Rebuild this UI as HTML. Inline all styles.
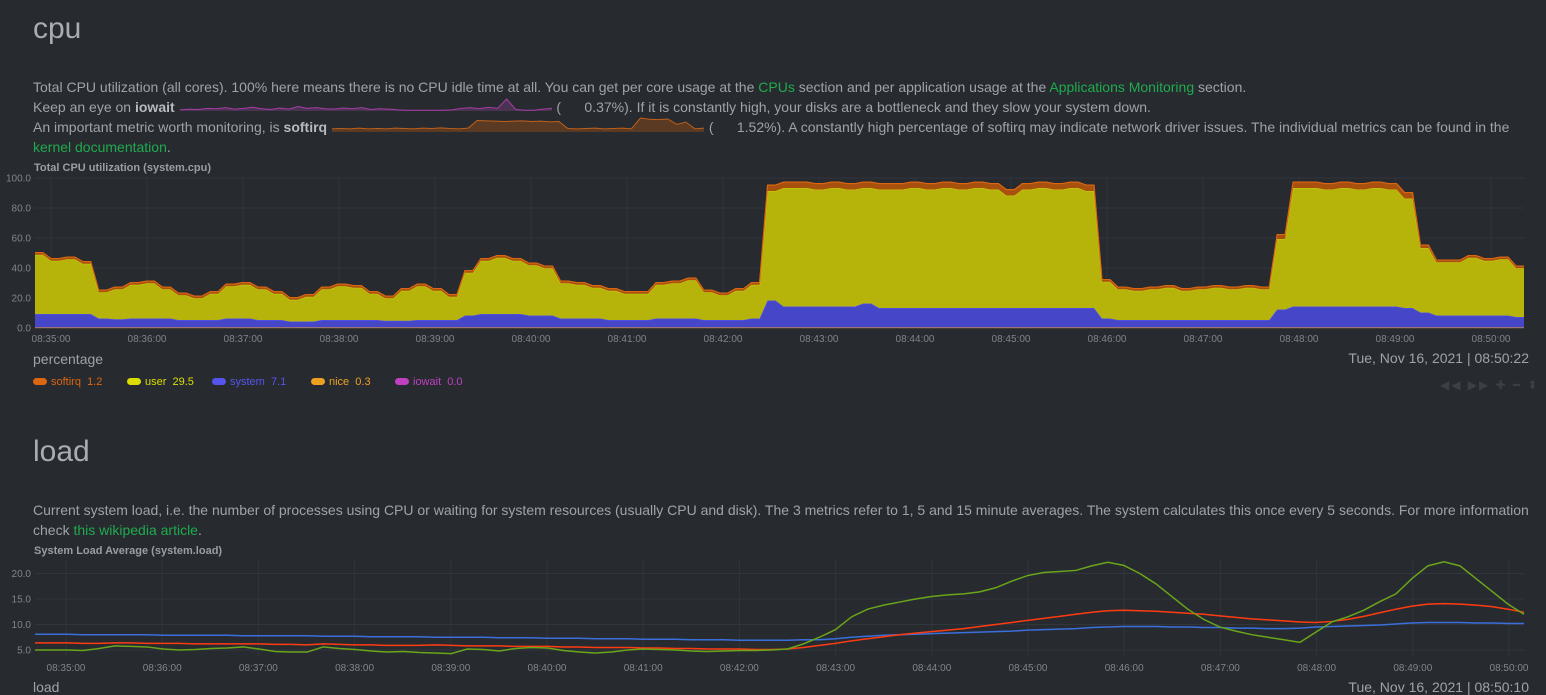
<!DOCTYPE html>
<html><head><meta charset="utf-8">
<style>
html,body{margin:0;padding:0;width:1546px;height:691px;overflow:hidden;background:#272b30;font-family:"Liberation Sans",sans-serif;color:#9fa3a8}
.abs{position:absolute;white-space:nowrap}
.h{font-size:30px;color:#a9adb2;left:33px}
.t{font-size:14px;left:33px;line-height:20px}
a{color:#1fab4d;text-decoration:none}
b{color:#b7bbbf}
.ct{font-size:11px;font-weight:bold;color:#9a9ea3;left:34px}
.lg{font-size:11px;top:376px}
.sw{display:inline-block;width:14px;height:7px;border-radius:4px;margin-right:4px;vertical-align:0}
svg{position:absolute;left:0;top:0}
</style></head><body>
<div class="abs h" style="top:12px">cpu</div>
<div class="abs t" style="top:77px">Total CPU utilization (all cores). 100% here means there is no CPU idle time at all. You can get per core usage at the <a>CPUs</a> section and per application usage at the <a>Applications Monitoring</a> section.<br>
Keep an eye on <b>iowait</b> <span style="display:inline-block;width:374px"></span> (&nbsp;&nbsp;&nbsp;&nbsp;&nbsp;&nbsp;0.37%). If it is constantly high, your disks are a bottleneck and they slow your system down.<br>
An important metric worth monitoring, is <b>softirq</b> <span style="display:inline-block;width:374px"></span> (&nbsp;&nbsp;&nbsp;&nbsp;&nbsp;&nbsp;1.52%). A constantly high percentage of softirq may indicate network driver issues. The individual metrics can be found in the<br>
<a>kernel documentation</a>.</div>
<div class="abs ct" style="top:162px">Total CPU utilization (system.cpu)</div>
<div class="abs" style="top:351px;left:33px;font-size:14px">percentage</div>
<div class="abs" style="top:350px;right:17px;font-size:14px">Tue, Nov 16, 2021 | 08:50:22</div>
<div class="abs lg" style="left:33px;color:#dd6611"><span class="sw" style="background:#dd6611"></span>softirq&nbsp; 1.2</div>
<div class="abs lg" style="left:127px;color:#dddd00"><span class="sw" style="background:#dddd00"></span>user&nbsp; 29.5</div>
<div class="abs lg" style="left:212px;color:#5555ee"><span class="sw" style="background:#5555ee"></span>system&nbsp; 7.1</div>
<div class="abs lg" style="left:311px;color:#f0a020"><span class="sw" style="background:#f0a020"></span>nice&nbsp; 0.3</div>
<div class="abs lg" style="left:395px;color:#c040c0"><span class="sw" style="background:#c040c0"></span>iowait&nbsp; 0.0</div>
<div class="abs" style="top:378px;left:1440px;font-size:12px;color:#3c4046;letter-spacing:2px">◀◀ ▶▶ ✚ ━ ⬍</div>

<div class="abs h" style="top:435px">load</div>
<div class="abs t" style="top:500px">Current system load, i.e. the number of processes using CPU or waiting for system resources (usually CPU and disk). The 3 metrics refer to 1, 5 and 15 minute averages. The system calculates this once every 5 seconds. For more information<br>check <a>this wikipedia article</a>.</div>
<div class="abs ct" style="top:545px">System Load Average (system.load)</div>
<div class="abs" style="top:679px;left:33px;font-size:14px">load</div>
<div class="abs" style="top:679px;right:17px;font-size:14px">Tue, Nov 16, 2021 | 08:50:10</div>

<svg id="s" width="1546" height="691"></svg>
<script>
// CPU data, 5s steps from 08:34:50
const cpuUser=[39.5,39.5,35.5,35.5,36.5,36.5,33.5,33.5,17.5,17.5,20,20,22.5,22.5,23.5,23.5,19.5,19.5,16.5,16.5,14.5,14.5,17.5,17.5,21.5,21.5,22.5,22.5,20.5,20.5,17.5,17.5,14.5,14.5,16.5,16.5,20.5,20.5,22.5,22.5,21.5,21.5,17.5,17.5,15,15,20,20,22.5,22.5,19.5,19.5,15.5,15.5,28.5,28.5,35.5,35.5,37.5,37.5,35.5,35.5,33.5,33.5,31.5,31.5,23.5,23.5,22.5,22.5,20.5,20.5,19.5,19.5,17.5,17.5,17.5,17.5,22.5,22.5,23.5,23.5,25.5,25.5,18.5,18.5,16.5,16.5,19.5,19.5,22.5,22.5,73,73,79,79,79,79,78,78,79,79,78,78,77,77,79,79,79,79,80,80,79,79,80,80,79,79,80,80,79,79,75,75,79,79,80,80,79,79,80,80,78,78,24.5,24.5,20.5,20.5,19.5,19.5,20.5,20.5,21.5,21.5,19.5,19.5,20.5,20.5,21.5,21.5,20.5,20.5,21.5,21.5,20.5,20.5,47,47,79,79,79,79,78,78,79,79,78,78,79,79,78,78,73,73,43,43,35.5,35.5,35.5,35.5,38.5,38.5,36.5,36.5,37.5,37.5,32.5,32.5];
const cpuSystem=[9,9,9,9,9,9,9,9,6,6,5.5,5.5,6,6,6,6,6,6,5,5,5,5,5,5,6,6,6,6,5,5,5,5,4,4,4,4,5,5,5,5,5,5,5,5,4.5,4.5,4.5,4.5,5,5,5,5,5,5,8,8,9,9,9,9,9,9,8,8,8,8,6,6,6,6,6,6,5,5,5,5,5,5,6,6,6,6,6,6,5,5,5,5,5,5,6,6,18,18,14,14,14,14,14,14,14,14,14,14,16,16,13,13,13,13,13,13,13,13,13,13,13,13,13,13,13,13,13,13,13,13,13,13,13,13,13,13,13,13,6,6,5,5,5,5,5,5,5,5,5,5,5,5,5,5,5,5,5,5,5,5,12,12,14,14,14,14,14,14,14,14,14,14,14,14,14,14,13,13,10,10,8,8,8,8,8,8,8,8,8,8,7,7];
const cpuSoftirq=[1.5,1.5,1.5,1.5,1.5,1.5,1.5,1.5,1.5,1.5,1.5,1.5,1.5,1.5,1.5,1.5,1.5,1.5,1.5,1.5,1.5,1.5,1.5,1.5,1.5,1.5,1.5,1.5,1.5,1.5,1.5,1.5,1.5,1.5,1.5,1.5,1.5,1.5,1.5,1.5,1.5,1.5,1.5,1.5,1.5,1.5,1.5,1.5,1.5,1.5,1.5,1.5,1.5,1.5,1.5,1.5,1.5,1.5,1.5,1.5,1.5,1.5,1.5,1.5,1.5,1.5,1.5,1.5,1.5,1.5,1.5,1.5,1.5,1.5,1.5,1.5,1.5,1.5,1.5,1.5,1.5,1.5,1.5,1.5,1.5,1.5,1.5,1.5,1.5,1.5,1.5,1.5,4,4,4,4,4,4,4,4,4,4,4,4,4,4,4,4,4,4,4,4,4,4,4,4,4,4,4,4,4,4,4,4,4,4,4,4,4,4,4,4,4,4,1.5,1.5,1.5,1.5,1.5,1.5,1.5,1.5,1.5,1.5,1.5,1.5,1.5,1.5,1.5,1.5,1.5,1.5,1.5,1.5,1.5,1.5,3,3,4,4,4,4,4,4,4,4,4,4,4,4,4,4,4,4,2,2,1.5,1.5,1.5,1.5,1.5,1.5,1.5,1.5,1.5,1.5,1.5,1.5];
const cpuNice=cpuUser.map(()=>0.3);
const cpuYTicks=["0.0","20.0","40.0","60.0","80.0","100.0"];
const cpuXTicks=["08:35:00","08:36:00","08:37:00","08:38:00","08:39:00","08:40:00","08:41:00","08:42:00","08:43:00","08:44:00","08:45:00","08:46:00","08:47:00","08:48:00","08:49:00","08:50:00"];
// Load data, 10s steps from 08:34:40
const load15=[8.1,8.1,8.1,8.0,8.0,8.0,8.0,8.0,7.9,7.9,7.9,7.9,7.9,7.8,7.8,7.8,7.8,7.8,7.7,7.7,7.7,7.6,7.6,7.6,7.6,7.5,7.5,7.5,7.5,7.4,7.4,7.4,7.3,7.3,7.3,7.2,7.2,7.2,7.1,7.1,7.1,7.0,7.0,7.0,6.9,6.9,6.9,6.9,7.0,7.0,7.2,7.5,7.7,7.9,8.0,8.1,8.2,8.3,8.4,8.5,8.6,8.7,8.9,9.0,9.1,9.2,9.4,9.5,9.6,9.6,9.6,9.5,9.5,9.4,9.4,9.3,9.3,9.2,9.2,9.3,9.5,9.6,9.7,9.8,9.9,10.1,10.3,10.4,10.4,10.4,10.3,10.3,10.2,10.2];
const load5=[6.4,6.4,6.4,6.3,6.3,6.4,6.4,6.3,6.3,6.3,6.2,6.2,6.2,6.2,6.2,6.1,6.1,6.0,6.2,6.1,6.0,6.0,5.9,5.9,5.9,6.0,5.9,5.8,5.8,5.8,5.7,5.7,5.7,5.6,5.6,5.5,5.5,5.5,5.4,5.4,5.3,5.3,5.2,5.2,5.2,5.1,5.1,5.2,5.5,5.9,6.3,6.8,7.2,7.6,8.0,8.3,8.6,8.9,9.2,9.6,10.0,10.4,10.8,11.2,11.6,12.0,12.4,12.7,12.8,12.7,12.6,12.4,12.2,12.0,11.7,11.4,11.1,10.9,10.7,10.5,10.4,10.6,11.0,11.6,12.3,13.0,13.6,14.0,14.1,14.0,13.8,13.5,13.0,12.4];
const load1=[5.0,5.0,5.0,4.9,5.3,5.8,5.7,5.6,5.2,5.0,5.1,5.3,5.4,5.6,5.2,4.7,4.6,4.6,5.6,5.3,5.1,4.8,4.6,4.7,4.5,4.4,4.3,5.2,5.1,4.8,5.3,5.5,5.4,4.9,4.6,4.4,4.6,5.0,5.2,5.1,5.0,4.8,4.7,4.8,4.9,4.9,5.0,5.2,6.2,7.5,9.0,11.5,13.0,13.8,14.4,15.0,15.5,15.8,16.0,16.4,17.2,18.5,19.6,20.2,20.4,20.6,21.5,22.2,21.6,20.0,18.0,15.5,13.0,11.0,9.5,8.7,8.0,7.5,7.0,6.5,8.5,10.5,11.5,12.8,14.5,16.0,19.0,21.5,22.3,21.5,19.0,16.5,14.0,12.0];
const loadYTicks=["5.0","10.0","15.0","20.0"];
const loadXTicks=cpuXTicks;
// sparklines
const iowaitSpark=[0.3,0.5,0.4,0.7,0.6,0.9,0.5,0.7,1.0,0.6,0.4,0.8,0.5,1.2,0.7,0.9,0.6,0.5,0.8,0.6,0.9,0.4,0.6,0.5,0.3,0.2,0.2,0.2,0.2,0.2,0.3,0.7,0.9,0.6,1.0,0.7,3.2,0.4,0.2,0.2,0.5,0.7];
const softirqSpark=[1.0,1.1,1.0,1.2,1.0,1.1,1.0,1.2,1.1,1.0,1.2,1.1,1.3,1.1,1.0,1.2,3.6,3.5,3.4,3.3,3.4,3.5,3.3,3.4,3.2,3.3,1.1,1.0,1.1,1.2,1.0,1.1,1.2,1.0,4.4,4.0,3.9,4.1,2.4,3.1,1.0,1.2];

const svg=document.getElementById('s'),NS='http://www.w3.org/2000/svg';
function mk(tag,attrs,name){const e=document.createElementNS(NS,tag);for(const k in attrs)e.setAttribute(k,attrs[k]);


svg.appendChild(e);return e;}
function txt(x,y,s,anchor,name){const t=mk('text',{x:x,y:y,'font-size':10,fill:'#80858b','text-anchor':anchor,'font-family':'Liberation Sans, sans-serif'},name);t.textContent=s;return t;}

const cx0=35,cx1=1524,cyTop=178,cyBot=328;
const cpuX=i=>cx0+i*(cx1-cx0)/(cpuUser.length-1);
const cpuY=v=>cyBot-v*(cyBot-cyTop)/100;
cpuYTicks.forEach((s,k)=>{const y=cpuY(parseFloat(s));mk('line',{x1:cx0,x2:cx1,y1:y,y2:y,stroke:'#30363c'},'cpu-gridline-y');txt(31,y+3.5,s,'end','cpu-y-tick');});
const tX=k=>51+k*96;
cpuXTicks.forEach((s,k)=>{mk('line',{x1:tX(k),x2:tX(k),y1:cyTop,y2:cyBot,stroke:'#30363c'},'cpu-gridline-x');txt(tX(k),342,s,'middle','cpu-x-tick');});
function stack(arrs){const n=arrs[0].length;const out=[];let base=new Array(n).fill(0);arrs.forEach(a=>{const top=base.map((b,i)=>b+a[i]);out.push([base,top]);base=top;});return out;}
const layers=stack([cpuNice,cpuSystem,cpuUser,cpuSoftirq]);
const fills=[['#c88a1c','#f0a020','nice'],['#4646c8','#5555ee','system'],['#b6b40b','#c8c60e','user'],['#a8500e','#dd6611','softirq']];
layers.forEach(([b,t],k)=>{let d='M'+cpuX(0)+','+cpuY(t[0]);for(let i=1;i<t.length;i++)d+='L'+cpuX(i)+','+cpuY(t[i]);for(let i=b.length-1;i>=0;i--)d+='L'+cpuX(i)+','+cpuY(b[i]);
mk('path',{d:d+'Z',fill:fills[k][0]},'cpu-area-'+fills[k][2]);
let l='M'+cpuX(0)+','+cpuY(t[0]);for(let i=1;i<t.length;i++)l+='L'+cpuX(i)+','+cpuY(t[i]);
mk('path',{d:l,fill:'none',stroke:fills[k][1],'stroke-width':1.2},'cpu-line-'+fills[k][2]);});

const lx0=35,lx1=1524;
const loadX=i=>lx0+i*(lx1-lx0)/(load1.length-1);
const loadY=v=>650-(v-5)*5.1;
loadYTicks.forEach(s=>{const y=loadY(parseFloat(s));mk('line',{x1:lx0,x2:lx1,y1:y,y2:y,stroke:'#30363c'},'load-gridline-y');txt(31,y+3.5,s,'end','load-y-tick');});
const lX=k=>66+k*96.2;
loadXTicks.forEach((s,k)=>{mk('line',{x1:lX(k),x2:lX(k),y1:560,y2:657,stroke:'#30363c'},'load-gridline-x');txt(lX(k),671,s,'middle','load-x-tick');});
[[load15,'#3a6fdc','load15'],[load5,'#ff3b12','load5'],[load1,'#6aa51a','load1']].forEach(([a,c,n])=>{let d='';a.forEach((v,i)=>d+=(i?'L':'M')+loadX(i)+','+loadY(v));mk('path',{d:d,fill:'none',stroke:c,'stroke-width':1.5},'load-line-'+n);});

function spark(a,x0,x1,yb,h,max,col,fill,name){const sx=i=>x0+i*(x1-x0)/(a.length-1),sy=v=>yb-v/max*h;let l='';a.forEach((v,i)=>l+=(i?'L':'M')+sx(i)+','+sy(v));
mk('path',{d:l+'L'+x1+','+yb+'L'+x0+','+yb+'Z',fill:fill},name+'-area');mk('path',{d:l,fill:'none',stroke:col,'stroke-width':1},name+'-line');}
spark(iowaitSpark,180,552,111,12,3.2,'#a83ca8','#4a3350','iowait-sparkline');
spark(softirqSpark,332,704,132,14,4.4,'#c0601a','#5a3a22','softirq-sparkline');
</script>
</body></html>
